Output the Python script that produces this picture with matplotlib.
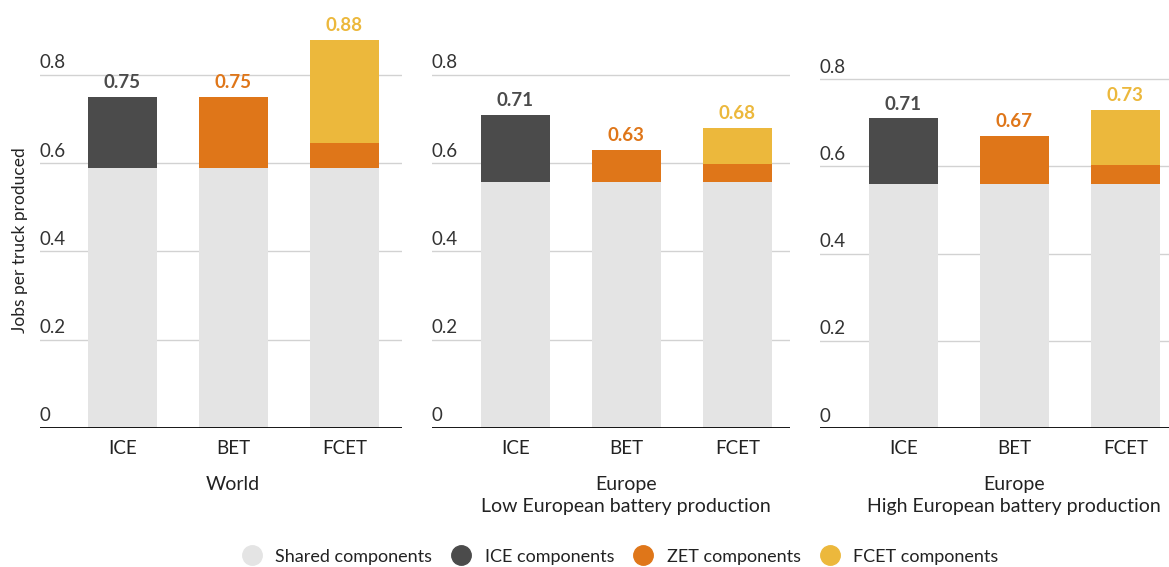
import matplotlib
matplotlib.use("Agg")
import matplotlib.pyplot as plt
from matplotlib.lines import Line2D
import matplotlib.transforms as mtransforms

plt.rcParams['font.family'] = ['Lato', 'DejaVu Sans']

# data
trucks = ['ICE', 'BET', 'FCET']
panels = ['World', 'Europe\nLow European battery production', 'Europe\nHigh European battery production']

shared = [[0.59, 0.59, 0.59], [0.557, 0.557, 0.557], [0.56, 0.56, 0.56]]
ice = [[0.16, 0, 0], [0.153, 0, 0], [0.15, 0, 0]]
zet = [[0, 0.16, 0.055], [0, 0.073, 0.04], [0, 0.11, 0.043]]
fcet = [[0, 0, 0.235], [0, 0, 0.083], [0, 0, 0.127]]
yticks = [0, 0.2, 0.4, 0.6, 0.8]

c_shared = '#e4e4e4'
c_ice = '#4b4b4b'
c_zet = '#df7619'
c_fcet = '#ecb83c'
label_cols = [c_ice, c_zet, c_fcet]

fig = plt.figure(figsize=(11.69, 5.67), dpi=100)

# axes boxes in pixels: left, width, xlim, ylim top
boxes = [(40, 362, (-0.74, 2.52), 0.95),
         (432, 358, (-0.75, 2.475), 0.95),
         (820, 349, (-0.75, 2.394), 0.962)]

for p, (left, width, xl, ytop) in enumerate(boxes):
    ax = fig.add_axes([left / 1169, 139 / 567, width / 1169, 419.4 / 567])
    x = range(3)
    b1 = shared[p]
    b2 = [b1[i] + ice[p][i] for i in x]
    b3 = [b2[i] + zet[p][i] for i in x]
    ax.bar(x, shared[p], width=0.62, color=c_shared, zorder=2)
    ax.bar(x, ice[p], bottom=b1, width=0.62, color=c_ice, zorder=2)
    ax.bar(x, zet[p], bottom=b2, width=0.62, color=c_zet, zorder=2)
    ax.bar(x, fcet[p], bottom=b3, width=0.62, color=c_fcet, zorder=2)
    for i in x:
        tot = b3[i] + fcet[p][i]
        ax.annotate('%.2f' % tot, (i, tot), xytext=(0, 4), textcoords='offset points',
                    ha='center', va='bottom', fontsize=13.5, fontweight='bold',
                    color=label_cols[i])

    ax.set_xlim(*xl)
    ax.set_ylim(0, ytop)
    for s in ax.spines.values():
        s.set_visible(False)
    ax.set_yticks([])
    trans = mtransforms.blended_transform_factory(ax.transAxes, ax.transData)
    for v in yticks:
        if v > 0:
            ax.axhline(v, color='#d2d2d2', lw=1, zorder=1)
        # tick label sits just above its gridline
        ax.text(0, v + 0.008, ('%g' % v), transform=trans, ha='left', va='bottom',
                fontsize=13.5, color='#333333')
    ax.axhline(0, color='black', lw=2, zorder=3)

    ax.set_xticks(list(x))
    ax.set_xticklabels(trucks, fontsize=13.5, color='#222222')
    ax.tick_params(axis='x', length=0, pad=9)

    trans2 = mtransforms.blended_transform_factory(ax.transData, ax.transAxes)
    ax.text(1, -0.115, panels[p], transform=trans2, ha='center', va='top',
            fontsize=14, color='#222222', linespacing=1.35)

    if p == 0:
        fig.text(20 / 1169, (567 - 240) / 567, 'Jobs per truck produced', rotation=90,
                 ha='center', va='center', fontsize=12.5, color='#222222')

handles = [Line2D([], [], marker='o', ls='', markersize=14, color=c) for c in [c_shared, c_ice, c_zet, c_fcet]]
fig.legend(handles, ['Shared components', 'ICE components', 'ZET components', 'FCET components'],
           loc='center', bbox_to_anchor=(0.527, 0.018), ncol=4, frameon=False,
           fontsize=13, handletextpad=0.3, columnspacing=0.6, labelcolor='#222222')

fig.savefig('out.png', dpi=100)
